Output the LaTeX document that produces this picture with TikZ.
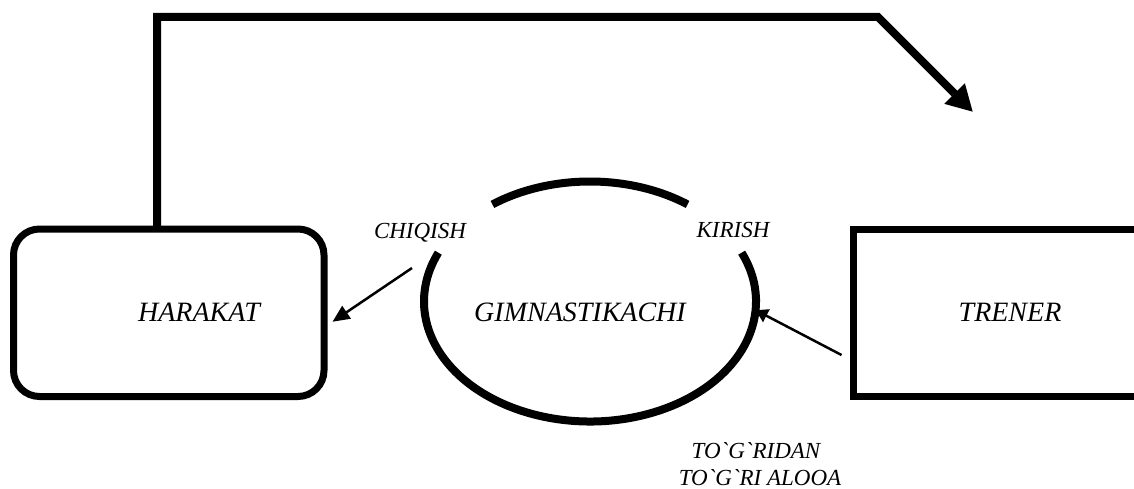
\documentclass[tikz,border=0pt]{standalone}
\usepackage{fontspec}
\setmainfont{Liberation Serif}
\usetikzlibrary{arrows.meta,shapes.geometric}
\tikzset{
  boxline/.style={draw,line width=7pt,inner sep=0pt},
  ringline/.style={line width=8pt},
  bigarrow/.style={line width=8pt,line join=miter,-{Triangle[length=26pt,width=27pt]}},
  thinarrow/.style={line width=2.5pt,-{Triangle[length=17pt,width=15pt]}},
  bigtext/.style={font=\fontsize{28}{32}\selectfont\itshape,inner sep=0pt,anchor=base},
  smalltext/.style={font=\fontsize{23}{27}\selectfont\itshape,inner sep=0pt,anchor=base}
}
\begin{document}
\begin{tikzpicture}[x=1pt,y=-1pt]
\useasboundingbox (0,0) rectangle (1134,489);
% 箱
\node[boxline,rounded corners=26pt,minimum width=310.5pt,minimum height=167.5pt] (harakat) at (168.75,312.75) {};
\node[boxline,minimum width=347pt,minimum height=167pt] (trener) at (1026.5,312.5) {};
\node[ellipse,minimum width=332pt,minimum height=240pt,inner sep=0pt] (gimn) at (590,301.5) {};
% 楕円（切れ目あり）
\draw[ringline] (590,301.5) ++(-126:166 and 120) arc[start angle=-126,end angle=-54,x radius=166,y radius=120];
\draw[ringline] (590,301.5) ++(-24:166 and 120) arc[start angle=-24,end angle=204,x radius=166,y radius=120];
% ラベル
\node[bigtext] (tharakat) at (199,321) {HARAKAT};
\node[bigtext] (tgimn) at (580,321) {GIMNASTIKACHI};
\node[bigtext] (ttrener) at (1010,321) {TRENER};
\node[smalltext] (chiqish) at (420,238) {CHIQISH};
\node[smalltext] (kirish) at (733,237) {KIRISH};
\node[smalltext] (tog1) at (756,458) {TO\textasciigrave G\textasciigrave RIDAN};
\node[smalltext] (tog2) at (760,485) {TO\textasciigrave G\textasciigrave RI ALOOA};
% 矢印
\coordinate (bend) at (878,17);
\coordinate (tip) at (973,112);
\draw[bigarrow] ([shift={(-11.75,3.5)}]harakat.north) |- (bend) -- (tip);
\coordinate (out) at (412,268);
\draw[thinarrow] (out) -- ([shift={(5,9)}]harakat.east);
\draw[thinarrow,-{Triangle[length=12pt,width=14pt]}] ([shift={(-8,42.5)}]trener.west) -- (gimn.-3);
\end{tikzpicture}
\end{document}
